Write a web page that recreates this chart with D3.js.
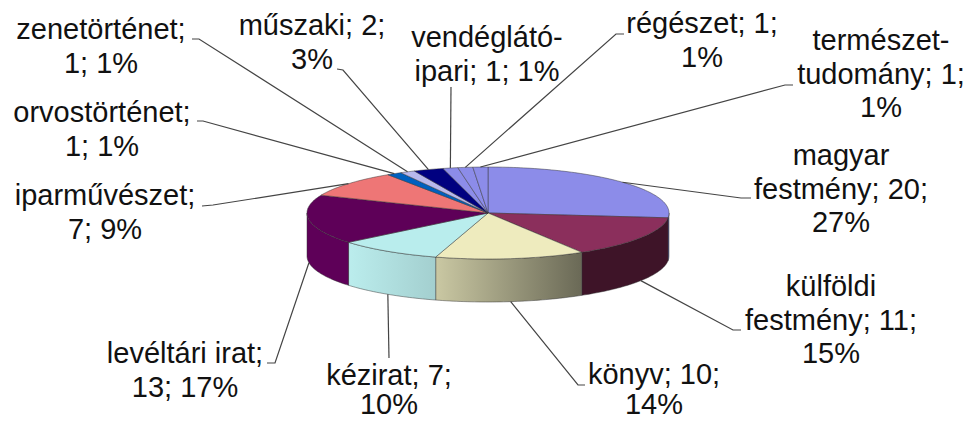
<!DOCTYPE html>
<html>
<head>
  <meta charset="utf-8">
  <title>Pie chart</title>
  <script src="https://d3js.org/d3.v7.min.js"></script>
  <style>
    html, body { margin: 0; padding: 0; background: #fff; }
    svg { display: block; }
    text { font-family: "Liberation Sans", Arial, sans-serif; font-size: 29px; fill: #111; }
  </style>
</head>
<body>
  <svg id="chart" width="969" height="421"></svg>
  <script>
    // Chart data
    const categories = ["magyar festmény", "külföldi festmény", "könyv", "kézirat", "levéltári irat", "iparművészet",
      "orvostörténet", "zenetörténet", "műszaki", "vendéglátóipari", "régészet", "természettudomány"];
    const values = [20, 11, 10, 7, 13, 7, 1, 1, 2, 1, 1, 1];
    const labelLines = [
      ["magyar", "festmény; 20;", "27%"],
      ["külföldi", "festmény; 11;", "15%"],
      ["könyv; 10;", "14%"],
      ["kézirat; 7;", "10%"],
      ["levéltári irat;", "13; 17%"],
      ["iparművészet;", "7; 9%"],
      ["orvostörténet;", "1; 1%"],
      ["zenetörténet;", "1; 1%"],
      ["műszaki; 2;", "3%"],
      ["vendéglátó-", "ipari; 1; 1%"],
      ["régészet; 1;", "1%"],
      ["természet-", "tudomány; 1;", "1%"]
    ];

    // Styles and layout, same order as the categories
    const topColors = ["#8C8CE9", "#8B2F5C", "#EEEBBE", "#B9EDED", "#5E0058", "#EE7676",
      "#0060BF", "#B8B8EC", "#000080", "#8C8CE9", "#8C8CE9", "#8C8CE9"];
    const sideFrom = ["#5f5fa0", "#3E1428", "#CAC8A3", "#BBEDED", "#5E0058", "#a05050",
      "#004080", "#7c7ca0", "#000060", "#5f5fa0", "#5f5fa0", "#5f5fa0"];
    const sideTo = ["#5f5fa0", "#3E1428", "#6A6956", "#A3CFCF", "#5E0058", "#a05050",
      "#004080", "#7c7ca0", "#000060", "#5f5fa0", "#5f5fa0", "#5f5fa0"];
    const labelX = [841, 831, 654, 389, 185, 105, 102, 101, 312, 487, 702, 881];
    const labelY = [165, 296, 384, 385, 363, 205, 122, 39, 35, 47, 33, 50];
    const lineGap = 33.5;
    const lowestBaseline = 414; // keeps the bottom labels inside the picture
    // leader line start and elbow, the other end comes from the pie
    const leaderStart = [[751, 198], [741, 330], [585, 385], [389, 358], [267, 363], [202, 206],
      [197, 121], [192, 39], [337, 69], [451, 87], [624, 34], [793, 85]];
    const leaderElbow = [[741, 198], [733, 330], [578, 385], [389, 358], [275, 363], [213, 205],
      [203, 121], [199, 39], [343, 70], [451, 87], [616, 34], [785, 85]];

    const cx = 488, cy = 213, rx = 181, ry = 46, depth = 43;

    const svg = d3.select("#chart");
    const defs = svg.append("defs");

    const x = d3.scaleLinear().domain([-1, 1]).range([cx - rx, cx + rx]);
    const y = d3.scaleLinear().domain([-1, 1]).range([cy + ry, cy - ry]);

    const slices = d3.pie().sort(null).value(d => d)(values);
    const line = d3.line().x(a => x(Math.sin(a))).y(a => y(Math.cos(a)));

    // points along the rim between two angles
    function rim(a0, a1) {
      const n = Math.max(2, Math.ceil(Math.abs(a1 - a0) / 0.02));
      return d3.range(n + 1).map(i => a0 + (a1 - a0) * i / n);
    }

    // Side wall, only the front half of the ellipse can be seen
    slices.forEach(function(d, i) {
      const a0 = Math.max(d.startAngle, Math.PI / 2);
      const a1 = Math.min(d.endAngle, Math.PI * 1.5);
      if (a1 <= a0) return;
      const pts = rim(a0, a1);
      const xs = d3.extent(pts, a => x(Math.sin(a)));
      const grad = defs.append("linearGradient")
        .attr("id", "side-" + i)
        .attr("gradientUnits", "userSpaceOnUse")
        .attr("x1", xs[0]).attr("x2", xs[1])
        .attr("y1", 0).attr("y2", 0);
      // the wall runs right to left here, so "from" is the left colour
      grad.append("stop").attr("offset", "0%").attr("stop-color", sideFrom[i]);
      grad.append("stop").attr("offset", "100%").attr("stop-color", sideTo[i]);

      const upper = line(pts);
      const lower = pts.slice().reverse().map(a => [x(Math.sin(a)), y(Math.cos(a)) + depth]);
      svg.append("path")
        .attr("d", upper + "L" + lower.join("L") + "Z")
        .attr("fill", "url(#side-" + i + ")")
        .attr("stroke", "#333")
        .attr("stroke-width", 0.6)
        .attr("stroke-opacity", 0.8);
    });

    // Top face
    slices.forEach(function(d, i) {
      svg.append("path")
        .attr("d", line(rim(d.startAngle, d.endAngle)) + "L" + cx + "," + cy + "Z")
        .attr("fill", topColors[i])
        .attr("stroke", "#333")
        .attr("stroke-width", 0.6)
        .attr("stroke-opacity", 0.8)
        .attr("stroke-linejoin", "round");
    });

    // Leader lines
    slices.forEach(function(d, i) {
      const mid = (d.startAngle + d.endAngle) / 2;
      const front = Math.cos(mid) < 0;
      const end = [x(Math.sin(mid)), y(Math.cos(mid)) + (front ? depth : 0)];
      svg.append("path")
        .attr("d", "M" + leaderStart[i] + "L" + leaderElbow[i] + "L" + end)
        .attr("fill", "none")
        .attr("stroke", "#444")
        .attr("stroke-width", 1.2);
    });

    // Labels
    categories.forEach(function(name, i) {
      const t = svg.append("text")
        .attr("class", "label")
        .attr("text-anchor", "middle")
        .attr("y", labelY[i]);
      labelLines[i].forEach(function(s, j) {
        t.append("tspan")
          .attr("x", labelX[i])
          .attr("y", Math.min(labelY[i] + j * lineGap, lowestBaseline))
          .text(s);
      });
    });
  </script>
</body>
</html>
